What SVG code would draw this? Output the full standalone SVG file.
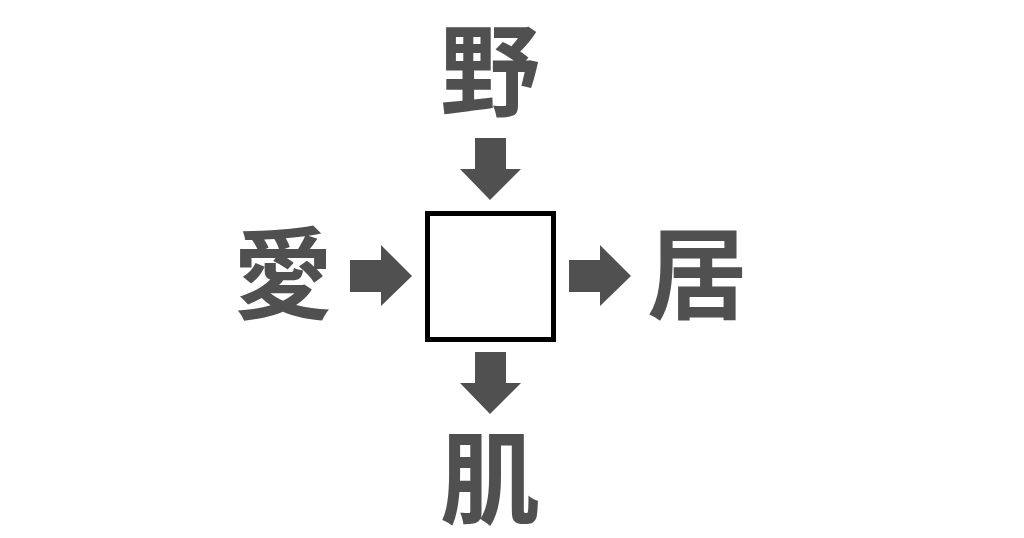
<svg xmlns="http://www.w3.org/2000/svg" width="1024" height="538" viewBox="0 0 1024 538">
<style>
.ch{font-family:"Noto Sans CJK JP","Noto Sans CJK SC",sans-serif;font-weight:bold;font-size:100px;fill:#505050;text-anchor:middle}
.ar{fill:#505050}
</style>
<rect width="1024" height="538" fill="#ffffff"/>
<g id="box"><rect x="427.5" y="213.5" width="126" height="126" fill="#ffffff" stroke="#000000" stroke-width="5"/></g>
<g id="top"><text class="ch" x="490" y="108">野</text></g>
<g id="left"><text class="ch" x="283" y="311">愛</text></g>
<g id="right"><text class="ch" x="697" y="311">居</text></g>
<g id="bottom"><text class="ch" x="490" y="516">肌</text></g>
<g id="connectors">
<polygon class="ar" points="475,138 506,138 506,169 521,169 490,200 460,169 475,169"/>
<polygon class="ar" points="475,352 506,352 506,383 521,383 490,414 460,383 475,383"/>
<polygon class="ar" points="350,260 381,260 381,245 412,276 381,306 381,292 350,292"/>
<polygon class="ar" points="569,260 600,260 600,245 631,276 600,306 600,292 569,292"/>
</g>
</svg>
